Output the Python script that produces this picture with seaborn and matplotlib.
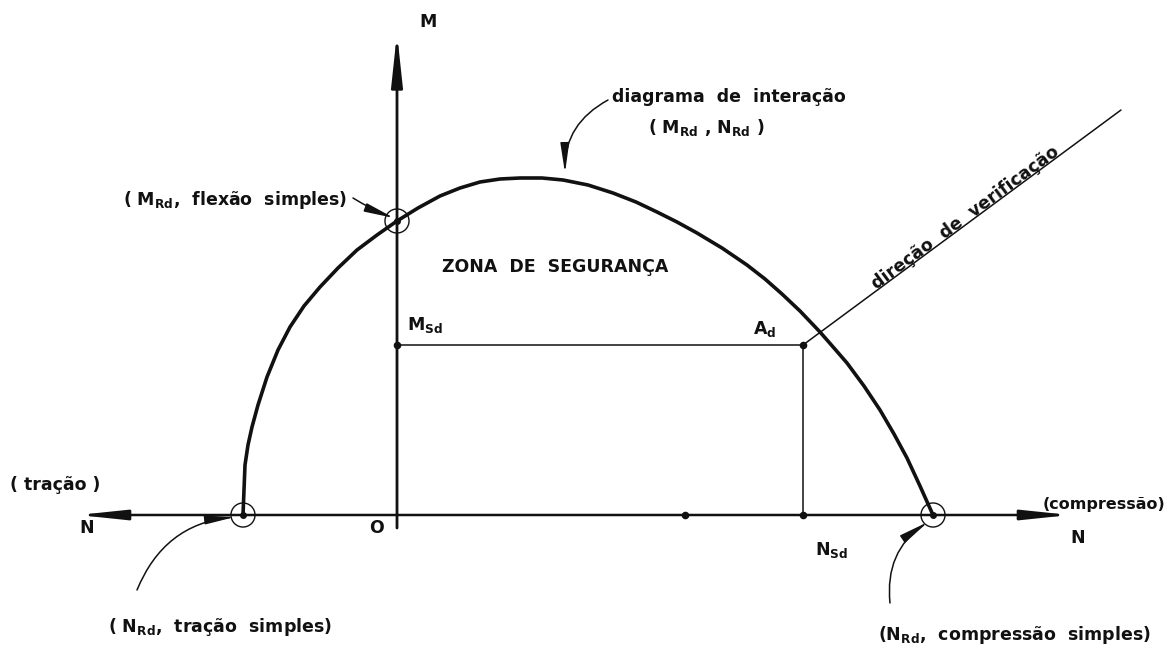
import numpy as np
import pandas as pd
import seaborn as sns
import matplotlib.pyplot as plt

# interaction diagram (N, M); origin at O
curve_n = [-154, -153, -152, -149, -145, -139, -130, -119, -107, -93, -77,
           -59, -40, -20, 0, 21, 43, 63, 83, 103, 123, 145, 166, 191, 216,
           239, 260, 280, 300, 325, 350, 368, 385, 403, 423, 437, 450, 467,
           483, 497, 510, 523, 536]
curve_m = [0, 25, 50, 70, 88, 110, 138, 165, 188, 209, 228,
           247, 265, 280, 294, 307, 319, 327, 333, 336, 337, 337, 335, 330, 322,
           313, 303, 293, 282, 267, 250, 236, 221, 204, 183, 167, 152, 129,
           105, 81, 57, 29, 0]

# design point
n_sd = 406
m_sd = 170
verif_end = (724, 405)  # end of the "direção de verificação" line

# special points on the envelope
ring_n = [0, -154, 536]
ring_m = [294, 0, 0]

axis_n = (-319, 673)
axis_m = (-13, 482)

sns.set_theme(style="white")
plt.rcParams["font.family"] = ["DejaVu Sans"]
plt.rcParams["mathtext.fontset"] = "dejavusans"

fig = plt.figure(figsize=(11.71, 6.5), dpi=100)
ax = fig.add_axes([0, 0, 1, 1])
ax.set_xlim(-397, 774)
ax.set_ylim(-135, 515)
ax.axis("off")

ink = "#111111"
fs = 12.5
txt = dict(color=ink, fontsize=fs, fontweight="bold")

# ── axes with arrows ──────────────────────────────────────────────
ax.annotate("", xy=(axis_n[0], 0), xytext=(axis_n[1], 0),
            arrowprops=dict(arrowstyle="<|-|>,head_length=2.4,head_width=0.25",
                            lw=1.8, color=ink, shrinkA=0, shrinkB=0))
ax.annotate("", xy=(0, axis_m[1]), xytext=(0, axis_m[0]),
            arrowprops=dict(arrowstyle="-|>,head_length=2.6,head_width=0.28",
                            lw=2.0, color=ink, shrinkA=0, shrinkB=0))

# ── interaction curve ─────────────────────────────────────────────
curve = pd.DataFrame({"N": curve_n, "M": curve_m})
sns.lineplot(data=curve, x="N", y="M", sort=False, estimator=None,
             color=ink, lw=2.6, ax=ax)

# design point construction lines
thin = dict(color=ink, lw=1.1, sort=False, estimator=None, ax=ax)
sns.lineplot(x=[0, n_sd], y=[m_sd, m_sd], **thin)
sns.lineplot(x=[n_sd, n_sd], y=[m_sd, 0], **thin)
sns.lineplot(x=[n_sd, verif_end[0]], y=[m_sd, verif_end[1]], **thin)

dots = pd.DataFrame({"N": [0, n_sd, n_sd, 288], "M": [m_sd, m_sd, 0, 0]})
sns.scatterplot(data=dots, x="N", y="M", color=ink, s=30, linewidth=0, ax=ax)

rings = pd.DataFrame({"N": ring_n, "M": ring_m})
sns.scatterplot(data=rings, x="N", y="M", s=300, facecolor="none",
                edgecolor=ink, linewidth=1.0, ax=ax)
sns.scatterplot(data=rings, x="N", y="M", s=25, color=ink, linewidth=0, ax=ax)

# ── annotation arrows ─────────────────────────────────────────────
arr = dict(arrowstyle="-|>,head_length=1.5,head_width=0.22", lw=1.1, color=ink,
           shrinkA=0, shrinkB=0)
ax.annotate("", xy=(-3, 297), xytext=(-44, 317),
            arrowprops=dict(arr, connectionstyle="arc3,rad=0.05"))
ax.annotate("", xy=(168, 342), xytext=(211, 415),
            arrowprops=dict(arr, connectionstyle="arc3,rad=0.3"))
ax.annotate("", xy=(-162, -2), xytext=(-260, -75),
            arrowprops=dict(arr, connectionstyle="arc3,rad=-0.3"))
ax.annotate("", xy=(531, -7), xytext=(493, -88),
            arrowprops=dict(arr, connectionstyle="arc3,rad=-0.3"))

# ── labels ────────────────────────────────────────────────────────
ax.text(22, 493, "M", ha="left", va="center", **txt)
ax.text(-50, 315, r"( $\mathbf{M}_{\mathbf{Rd}}$,  flexão  simples)",
        ha="right", va="center", **txt)
ax.text(45, 248, "ZONA  DE  SEGURANÇA", ha="left", va="center", **txt)
ax.text(10, 190, r"$\mathbf{M}_{\mathbf{Sd}}$", ha="left", va="center", **txt)
ax.text(356, 186, r"$\mathbf{A}_{\mathbf{d}}$", ha="left", va="center", **txt)
ax.text(215, 418, "diagrama  de  interação", ha="left", va="center", **txt)
ax.text(251, 387, r"( $\mathbf{M}_{\mathbf{Rd}}$ , $\mathbf{N}_{\mathbf{Rd}}$ )",
        ha="left", va="center", **txt)
ax.text(482, 222, "direção  de  verificação", ha="left", va="bottom",
        rotation=36.5, rotation_mode="anchor", **txt)
ax.text(-387, 30, "( tração )", ha="left", va="center", **txt)
ax.text(-310, -13, "N", ha="center", va="center", **txt)
ax.text(-20, -13, "O", ha="center", va="center", **txt)
ax.text(-289, -112, r"( $\mathbf{N}_{\mathbf{Rd}}$,  tração  simples)",
        ha="left", va="center", **txt)
ax.text(418, -35, r"$\mathbf{N}_{\mathbf{Sd}}$", ha="left", va="center", **txt)
ax.text(481, -120, r"($\mathbf{N}_{\mathbf{Rd}}$,  compressão  simples)",
        ha="left", va="center", **txt)
ax.text(646, 10, "(compressão)", ha="left", va="center",
        **dict(txt, fontsize=11.5))
ax.text(681, -23, "N", ha="center", va="center", **txt)

fig.savefig("out.png", dpi=100)
